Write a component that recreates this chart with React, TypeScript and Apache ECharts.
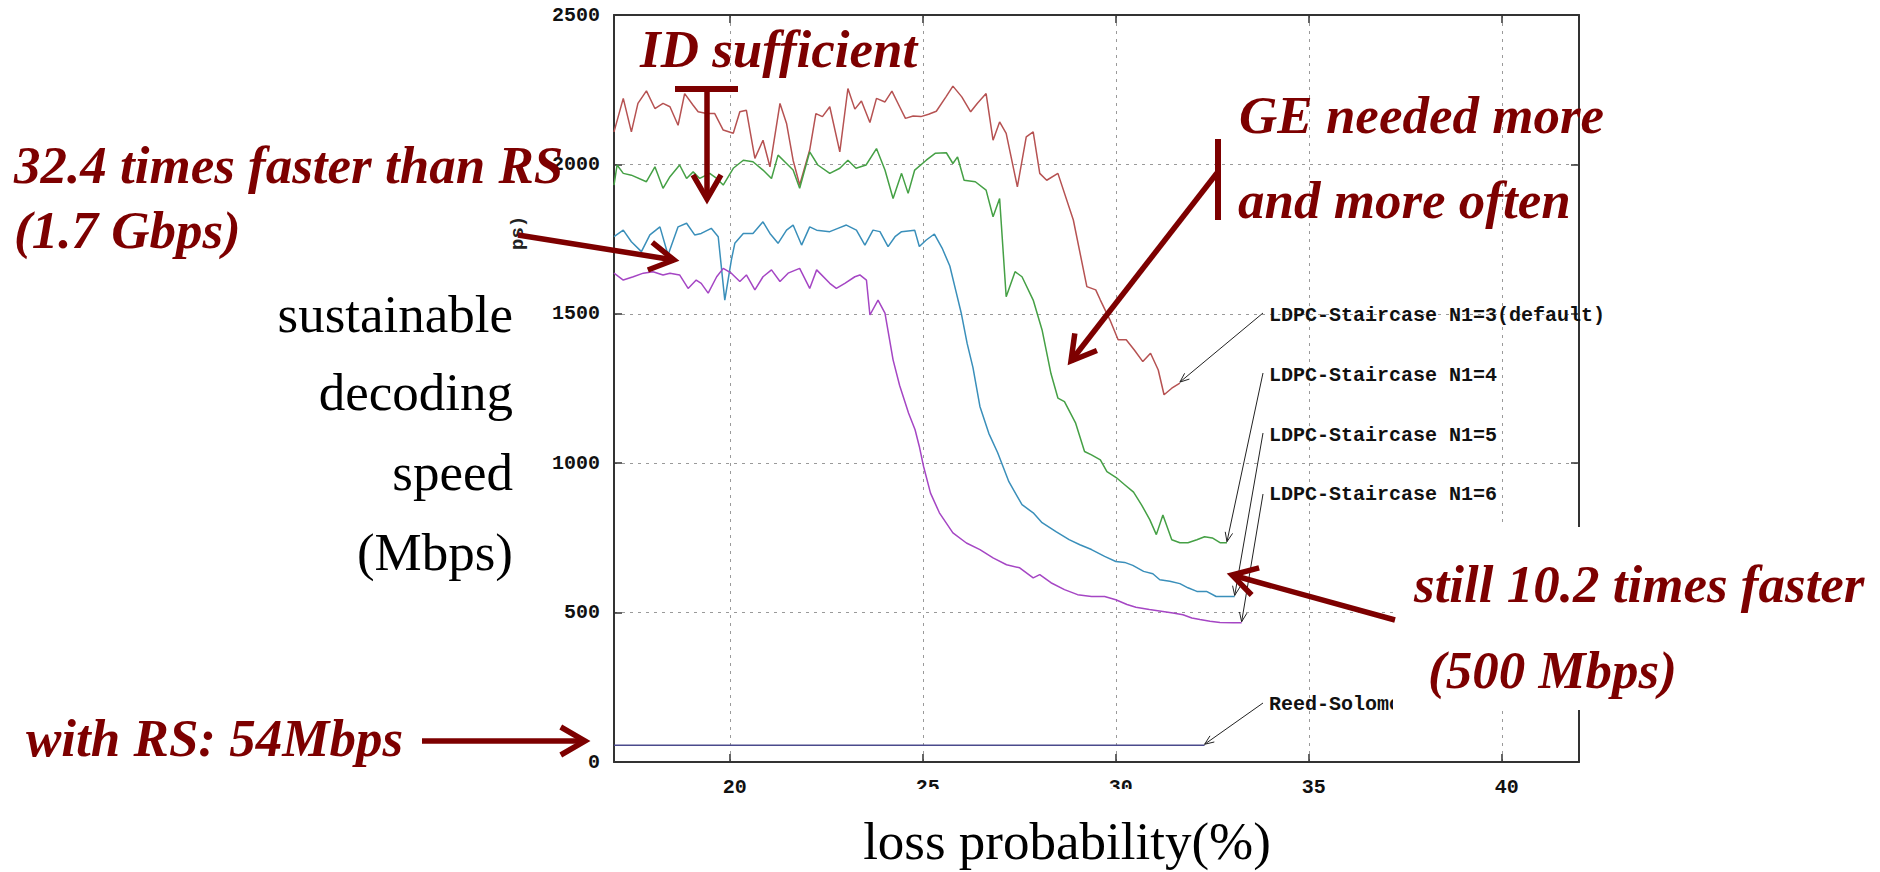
import React, { useEffect, useRef } from "react";
import * as echarts from "echarts";

// ---------- data ----------
const seriesNames = [
  "LDPC-Staircase N1=3(default)",
  "LDPC-Staircase N1=4",
  "LDPC-Staircase N1=5",
  "LDPC-Staircase N1=6",
  "Reed-Solomon",
];
const xTickLabels = [20, 25, 30, 35, 40];
const yTickLabels = [0, 500, 1000, 1500, 2000, 2500];

const n1_3: [number, number][] = [
  [17.0, 2109], [17.24, 2221], [17.45, 2109], [17.62, 2204], [17.84, 2246], [18.06, 2187],
  [18.27, 2204], [18.45, 2193], [18.66, 2131], [18.83, 2237], [19.05, 2198], [19.18, 2176],
  [19.4, 2170], [19.61, 2170], [19.83, 2115], [20.09, 2104], [20.26, 2176], [20.43, 2181],
  [20.65, 2020], [20.86, 2081], [21.04, 1992], [21.3, 2204], [21.47, 2137], [21.64, 2014],
  [21.81, 1931], [22.07, 2048], [22.23, 2170], [22.4, 2160], [22.59, 2193], [22.85, 2042],
  [23.06, 2254], [23.24, 2185], [23.41, 2212], [23.63, 2140], [23.8, 2221], [24.02, 2209],
  [24.2, 2245], [24.4, 2193], [24.55, 2154], [24.75, 2162], [24.95, 2160], [25.15, 2168],
  [25.35, 2178], [25.6, 2226], [25.78, 2262], [26.01, 2226], [26.24, 2176], [26.41, 2204],
  [26.64, 2237], [26.82, 2081], [26.99, 2142], [27.16, 2104], [27.45, 1925], [27.68, 2092],
  [27.86, 2109], [28.03, 1970], [28.21, 1947], [28.5, 1970], [28.9, 1814], [29.25, 1591],
  [29.48, 1580], [29.6, 1546], [29.85, 1479], [30.06, 1413], [30.27, 1413], [30.48, 1379],
  [30.7, 1340], [30.9, 1368], [31.1, 1312], [31.25, 1229], [31.45, 1251], [31.66, 1268],
];

const n1_4: [number, number][] = [
  [17.0, 1931], [17.08, 1998], [17.24, 1970], [17.45, 1964], [17.84, 1942], [18.06, 1992],
  [18.27, 1920], [18.45, 1959], [18.7, 1998], [18.88, 1953], [19.05, 1975], [19.22, 1953],
  [19.48, 1970], [19.66, 1953], [19.83, 1931], [20.09, 1987], [20.35, 2014], [20.6, 2009],
  [20.86, 1981], [21.08, 1953], [21.25, 2031], [21.47, 2003], [21.64, 1981], [21.81, 1920],
  [22.07, 2042], [22.28, 1998], [22.59, 1970], [22.85, 1987], [23.06, 2014], [23.27, 1987],
  [23.53, 1998], [23.8, 2053], [24.02, 1981], [24.23, 1886], [24.45, 1970], [24.62, 1903],
  [24.79, 1981], [25.09, 2014], [25.32, 2037], [25.61, 2039], [25.78, 2003], [25.9, 2025],
  [26.07, 1947], [26.36, 1942], [26.64, 1914], [26.82, 1825], [26.99, 1886], [27.16, 1557],
  [27.39, 1641], [27.57, 1624], [27.86, 1546], [28.09, 1446], [28.32, 1300], [28.5, 1218],
  [28.67, 1206], [28.96, 1134], [29.19, 1039], [29.37, 1028], [29.6, 1011], [29.77, 972],
  [30.01, 952], [30.23, 928], [30.46, 903], [30.67, 860], [30.88, 811], [31.05, 761],
  [31.22, 827], [31.45, 744], [31.66, 734], [31.87, 734], [32.1, 744], [32.3, 754],
  [32.5, 750], [32.7, 734], [32.88, 734],
];

const n1_5: [number, number][] = [
  [17.0, 1758], [17.24, 1780], [17.45, 1741], [17.71, 1708], [17.93, 1764], [18.19, 1791],
  [18.4, 1697], [18.66, 1791], [18.88, 1803], [19.09, 1764], [19.26, 1769], [19.52, 1786],
  [19.7, 1758], [19.87, 1546], [20.04, 1680], [20.13, 1736], [20.35, 1769], [20.6, 1769],
  [20.86, 1808], [21.04, 1769], [21.25, 1736], [21.47, 1780], [21.64, 1797], [21.86, 1730],
  [22.07, 1791], [22.25, 1780], [22.59, 1775], [22.8, 1786], [23.02, 1797], [23.28, 1780],
  [23.5, 1730], [23.71, 1780], [23.89, 1775], [24.1, 1725], [24.28, 1758], [24.45, 1775],
  [24.79, 1780], [24.91, 1725], [25.09, 1747], [25.3, 1767], [25.5, 1720], [25.7, 1660],
  [25.85, 1580], [26.0, 1500], [26.15, 1400], [26.3, 1320], [26.48, 1190], [26.71, 1100],
  [26.94, 1035], [27.23, 938], [27.57, 861], [27.86, 834], [28.09, 801], [28.45, 771],
  [28.79, 744], [29.07, 727], [29.37, 711], [29.71, 688], [30.0, 671], [30.23, 668],
  [30.44, 658], [30.72, 638], [30.96, 630], [31.14, 610], [31.4, 605], [31.66, 597],
  [31.87, 583], [32.1, 571], [32.35, 571], [32.6, 554], [32.8, 554], [33.08, 554],
];

const n1_6: [number, number][] = [
  [17.0, 1636], [17.24, 1613], [17.5, 1624], [17.76, 1636], [18.01, 1641], [18.27, 1630],
  [18.45, 1636], [18.7, 1630], [18.92, 1585], [19.13, 1613], [19.26, 1602], [19.44, 1569],
  [19.66, 1624], [19.83, 1652], [20.04, 1636], [20.26, 1608], [20.43, 1630], [20.65, 1580],
  [20.86, 1624], [21.08, 1647], [21.3, 1608], [21.51, 1636], [21.81, 1652], [22.07, 1585],
  [22.25, 1647], [22.59, 1602], [22.76, 1585], [22.98, 1602], [23.24, 1624], [23.37, 1630],
  [23.54, 1613], [23.63, 1496], [23.84, 1546], [24.02, 1502], [24.23, 1346], [24.4, 1260],
  [24.63, 1168], [24.8, 1112], [24.91, 1056], [25.02, 989], [25.2, 900], [25.43, 834],
  [25.78, 767], [26.13, 733], [26.48, 711], [26.82, 683], [27.17, 660], [27.51, 650],
  [27.86, 616], [28.03, 627], [28.32, 600], [28.67, 577], [29.01, 560], [29.37, 554],
  [29.71, 554], [30.0, 543], [30.29, 527], [30.52, 518], [30.87, 510], [31.22, 504],
  [31.48, 499], [31.74, 493], [31.97, 482], [32.18, 477], [32.44, 471], [32.7, 467],
  [33.04, 466], [33.26, 466],
];

const reedSolomon: [number, number][] = [
  [17.0, 56], [20.0, 56], [25.0, 56], [30.0, 56], [32.3, 56],
];

const allSeries = [n1_3, n1_4, n1_5, n1_6, reedSolomon];
const seriesColors = ["#b65252", "#45a045", "#3a8fba", "#a546c4", "#4a4a8c"];

// ---------- styling constants ----------
const DARK_RED = "#7d0000";
const SERIF = "'Liberation Serif', 'Times New Roman', serif";
const MONO = "'Liberation Mono', 'DejaVu Sans Mono', monospace";
const AX = "#333333";

function chevron(tip: number[], from: number[], len: number, deg: number) {
  const dx = from[0] - tip[0];
  const dy = from[1] - tip[1];
  const d = Math.hypot(dx, dy);
  const ux = dx / d;
  const uy = dy / d;
  const a = (deg * Math.PI) / 180;
  const rot = (c: number, s: number) => [tip[0] + len * (ux * c - uy * s), tip[1] + len * (ux * s + uy * c)];
  return [rot(Math.cos(a), Math.sin(a)), tip, rot(Math.cos(a), -Math.sin(a))];
}

function bigArrow(from: number[], tip: number[]) {
  return [
    { type: "line", z: 90, shape: { x1: from[0], y1: from[1], x2: tip[0], y2: tip[1] }, style: { stroke: DARK_RED, lineWidth: 5.5 } },
    { type: "polyline", z: 90, shape: { points: chevron(tip, from, 28, 30) }, style: { stroke: DARK_RED, lineWidth: 5.5, fill: null, lineJoin: "miter" } },
  ];
}

function thinArrow(from: number[], tip: number[]) {
  return [
    { type: "line", z: 80, shape: { x1: from[0], y1: from[1], x2: tip[0], y2: tip[1] }, style: { stroke: "#222", lineWidth: 1 } },
    { type: "polyline", z: 80, shape: { points: chevron(tip, from, 10, 22) }, style: { stroke: "#222", lineWidth: 1, fill: null } },
  ];
}

function redText(text: string, x: number, y: number) {
  return {
    type: "text", z: 100,
    style: {
      text, x, y, fill: DARK_RED, fontFamily: SERIF, fontSize: 53, fontWeight: "bold", fontStyle: "italic",
      textAlign: "left", align: "left", textVerticalAlign: "middle", verticalAlign: "middle",
    },
  };
}

function blackText(text: string, x: number, y: number, align: string) {
  return {
    type: "text", z: 100,
    style: {
      text, x, y, fill: "#000", fontFamily: SERIF, fontSize: 53,
      textAlign: align, align, textVerticalAlign: "middle", verticalAlign: "middle",
    },
  };
}

function monoText(text: string, x: number, y: number, z = 70) {
  return {
    type: "text", z,
    style: {
      text, x, y, fill: "#111", fontFamily: MONO, fontSize: 20, fontWeight: "bold",
      textAlign: "left", align: "left", textVerticalAlign: "middle", verticalAlign: "middle",
    },
  };
}

export default function App() {
  const ref = useRef<HTMLDivElement>(null);

  useEffect(() => {
    const chart = echarts.init(ref.current!, null, { renderer: "svg" });

    const axisLabelStyle = { fontFamily: MONO, fontWeight: "bold", fontSize: 20, color: "#111" };

    chart.setOption({
      animation: false,
      backgroundColor: "#ffffff",
      grid: { left: 614, top: 15, right: 301, bottom: 110, containLabel: false },
      xAxis: [
        {
          type: "value", min: 17, max: 42, minInterval: 5, maxInterval: 5, splitNumber: 5,
          axisLine: { show: true, lineStyle: { color: AX, width: 2 } },
          axisTick: { show: true, inside: true, length: 8, lineStyle: { color: AX, width: 1.5 } },
          axisLabel: {
            ...axisLabelStyle, margin: 15, padding: [0, 0, 0, 10],
            formatter: (v: number) => (xTickLabels.includes(v) ? String(v) : ""),
          },
          splitLine: { show: true, lineStyle: { color: "#9a9a9a", width: 1, type: [3, 5] } },
        },
        {
          type: "value", position: "top", min: 17, max: 42, minInterval: 5, maxInterval: 5, splitNumber: 5,
          axisLine: { show: true, onZero: false, lineStyle: { color: AX, width: 2 } },
          axisTick: { show: true, inside: true, length: 8, lineStyle: { color: AX, width: 1.5 } },
          axisLabel: { show: false },
          splitLine: { show: false },
        },
      ],
      yAxis: [
        {
          type: "value", min: 0, max: 2500, interval: 500,
          axisLine: { show: true, onZero: false, lineStyle: { color: AX, width: 2 } },
          axisTick: { show: true, inside: true, length: 8, lineStyle: { color: AX, width: 1.5 } },
          axisLabel: { ...axisLabelStyle, margin: 14, formatter: (v: number) => (yTickLabels.includes(v) ? String(v) : "") },
          splitLine: { show: true, lineStyle: { color: "#9a9a9a", width: 1, type: [3, 5] } },
        },
        {
          type: "value", position: "right", min: 0, max: 2500, interval: 500,
          axisLine: { show: true, onZero: false, lineStyle: { color: AX, width: 2 } },
          axisTick: { show: true, inside: true, length: 8, lineStyle: { color: AX, width: 1.5 } },
          axisLabel: { show: false },
          splitLine: { show: false },
        },
      ],
      series: allSeries.map((data, i) => ({
        name: seriesNames[i],
        type: "line",
        xAxisIndex: 0,
        yAxisIndex: 0,
        data,
        symbol: "none",
        smooth: false,
        z: 3,
        lineStyle: { color: seriesColors[i], width: 1.5 },
        itemStyle: { color: seriesColors[i] },
      })),
    });

    // leader arrows from gnuplot-style labels to the end of each curve
    const labelY = [315, 375, 435, 494, 704];
    const labelX = 1269;
    const leaderStart = [[1263, 313], [1263, 373], [1263, 433], [1263, 494], [1263, 703]];
    const graphics: any[] = [];

    // white boxes from the slide's text frames
    graphics.push({ type: "rect", z: 60, shape: { x: 850, y: 789, width: 436, height: 83 }, style: { fill: "#ffffff" } });
    graphics.push({ type: "rect", z: 75, shape: { x: 1393, y: 527, width: 487, height: 183 }, style: { fill: "#ffffff" } });

    allSeries.forEach((data, i) => {
      const last = data[data.length - 1];
      const p = chart.convertToPixel({ gridIndex: 0 }, last) as number[];
      graphics.push(...thinArrow(leaderStart[i], [p[0], p[1] - 1]));
      graphics.push(monoText(seriesNames[i], labelX, labelY[i], 70));
    });

    // remnant of the original rotated y-axis title
    graphics.push({
      type: "text", z: 70, x: 518, y: 250, rotation: Math.PI / 2,
      style: { text: "ps)", x: 0, y: 0, fill: "#222", fontFamily: MONO, fontSize: 19, fontWeight: "bold", textAlign: "left", align: "left", textVerticalAlign: "middle", verticalAlign: "middle" },
    });

    // slide axis titles
    graphics.push(blackText("sustainable", 513, 314, "right"));
    graphics.push(blackText("decoding", 513, 392, "right"));
    graphics.push(blackText("speed", 513, 472, "right"));
    graphics.push(blackText("(Mbps)", 513, 552, "right"));
    graphics.push(blackText("loss probability(%)", 1067, 841, "center"));

    // red annotations
    graphics.push(redText("ID sufficient", 640, 49));
    graphics.push(redText("32.4 times faster than RS", 14, 165));
    graphics.push(redText("(1.7 Gbps)", 14, 230));
    graphics.push(redText("GE needed more", 1239, 115));
    graphics.push(redText("and more often", 1238, 200));
    graphics.push(redText("still 10.2 times faster", 1414, 584));
    graphics.push(redText("(500 Mbps)", 1428, 670));
    graphics.push(redText("with RS: 54Mbps", 26, 738));

    // red arrows
    graphics.push({ type: "line", z: 90, shape: { x1: 675, y1: 89, x2: 738, y2: 89 }, style: { stroke: DARK_RED, lineWidth: 6 } });
    graphics.push(...bigArrow([707, 89], [707, 199]));
    graphics.push(...bigArrow([518, 235], [674, 260]));
    graphics.push({ type: "line", z: 90, shape: { x1: 1218, y1: 139, x2: 1218, y2: 220 }, style: { stroke: DARK_RED, lineWidth: 6 } });
    graphics.push(...bigArrow([1217, 173], [1071, 361]));
    graphics.push(...bigArrow([1395, 620], [1232, 575]));
    graphics.push(...bigArrow([422, 741], [585, 741]));

    chart.setOption({ graphic: { elements: graphics } });

    return () => chart.dispose();
  }, []);

  return (
    <div
      ref={ref}
      style={{ position: "fixed", left: 0, top: 0, width: 1880, height: 872, background: "#ffffff" }}
    />
  );
}
